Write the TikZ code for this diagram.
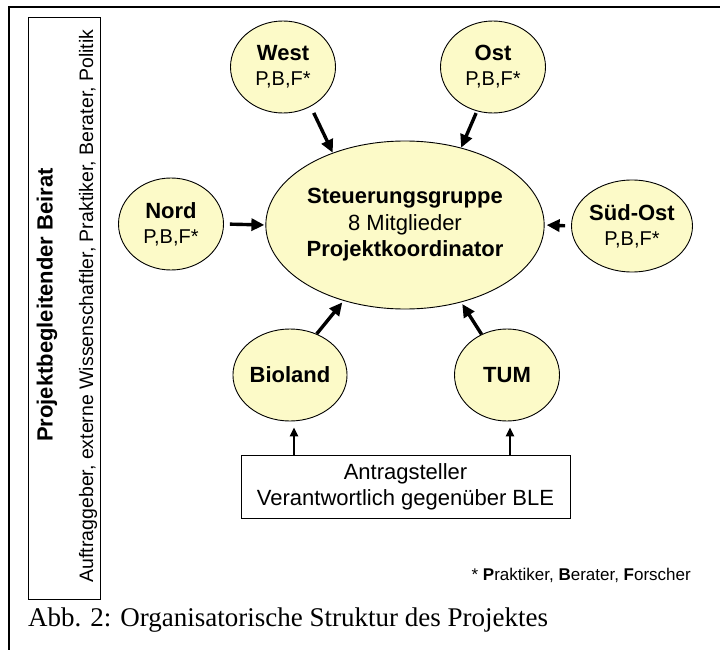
\documentclass[tikz,border=0pt]{standalone}
\usepackage{fontspec}
\setmainfont{Liberation Sans}
\newfontfamily\capfont{Liberation Serif}
\usetikzlibrary{arrows.meta,calc,shapes.geometric}
\definecolor{nodefill}{RGB}{252,250,200}
\begin{document}
\begin{tikzpicture}[x=1pt,y=-1pt,
  bubble/.style={ellipse, draw=black, line width=0.9pt, fill=nodefill, inner sep=0pt,
    align=center, minimum width=105pt, minimum height=92pt, font=\fontsize{22}{25}\selectfont},
  sub/.style={font=\fontsize{20}{25}\selectfont},
  arr/.style={line width=3.4pt, -{Triangle[length=13pt,width=12pt]}},
  smallarr/.style={line width=2.4pt, -{Triangle[length=9pt,width=8pt]}},
  frameline/.style={line width=2pt}
]
\useasboundingbox (0,0) rectangle (720,650);
% outer frame (top and left edges visible)
\draw[frameline] (9,650) -- (9,7) -- (720,7);

% left box
\node[draw, line width=1pt, minimum width=72pt, minimum height=581pt, inner sep=0pt] (beirat) at (64,308.5) {};
\node[rotate=90, inner sep=0pt, font=\bfseries\fontsize{22}{26}\selectfont] (beiratT) at (47,305) {Projektbegleitender Beirat};
\node[rotate=90, inner sep=0pt, font=\fontsize{19.5}{24}\selectfont] (beiratS) at (88,306) {Auftraggeber, externe Wissenschaftler, Praktiker, Berater, Politik};

% bubbles
\node[bubble, minimum width=248pt, minimum height=168pt, font=\fontsize{22}{26.5}\selectfont] (ctr) at (405,225)
  {\textbf{Steuerungsgruppe}\\8 Mitglieder\\\textbf{Projektkoordinator}};
\node[bubble] (west) at (283,67) {\textbf{West}\\{\fontsize{20}{25}\selectfont P,B,F*}};
\node[bubble] (ost) at (493,67) {\textbf{Ost}\\{\fontsize{20}{25}\selectfont P,B,F*}};
\node[bubble] (nord) at (171,224) {\textbf{Nord}\\{\fontsize{20}{25}\selectfont P,B,F*}};
\node[bubble] (sud) at (632,226) {\textbf{Süd-Ost}\\{\fontsize{20}{25}\selectfont P,B,F*}};
\node[bubble] (bio) at (290,375) {\textbf{Bioland}};
\node[bubble] (tum) at (507,375) {\textbf{TUM}};

% applicant box
\node[draw, line width=1pt, minimum width=329pt, minimum height=63pt, inner sep=0pt, align=center,
  font=\fontsize{22}{26}\selectfont] (box) at (405.5,486.5) {Antragsteller\\Verantwortlich gegenüber BLE};

% arrows
\draw[arr, shorten <=7pt] (west.-55) -- (ctr.135);
\draw[arr, shorten <=2pt] (ost.-110) -- (ctr.54);
\draw[arr, shorten <=6pt, shorten >=1pt] (nord.east) -- (ctr.west);
\draw[arr, shorten <=6pt, shorten >=2pt] (sud.west) -- (ctr.east);
\draw[arr, shorten >=2pt] (bio.57) -- (ctr.-129);
\draw[arr, shorten >=2pt] (tum.122) -- (ctr.-54);
\draw[smallarr, shorten >=6pt] ($(bio.south |- box.north)+(4,0)$) -- ($(bio.south)+(4,0)$);
\draw[smallarr, shorten >=6pt] ($(tum.south |- box.north)+(3,0)$) -- ($(tum.south)+(3,0)$);

% footnote and caption
\node[anchor=east, inner sep=0pt, font=\fontsize{17}{20}\selectfont] (fn) at (691,575)
  {* \textbf{P}raktiker, \textbf{B}erater, \textbf{F}orscher};
\node[anchor=west, inner sep=0pt, font=\capfont\fontsize{27}{30}\selectfont] (cap) at (28,620)
  {Abb. 2: Organisatorische Struktur des Projektes};
\end{tikzpicture}
\end{document}
